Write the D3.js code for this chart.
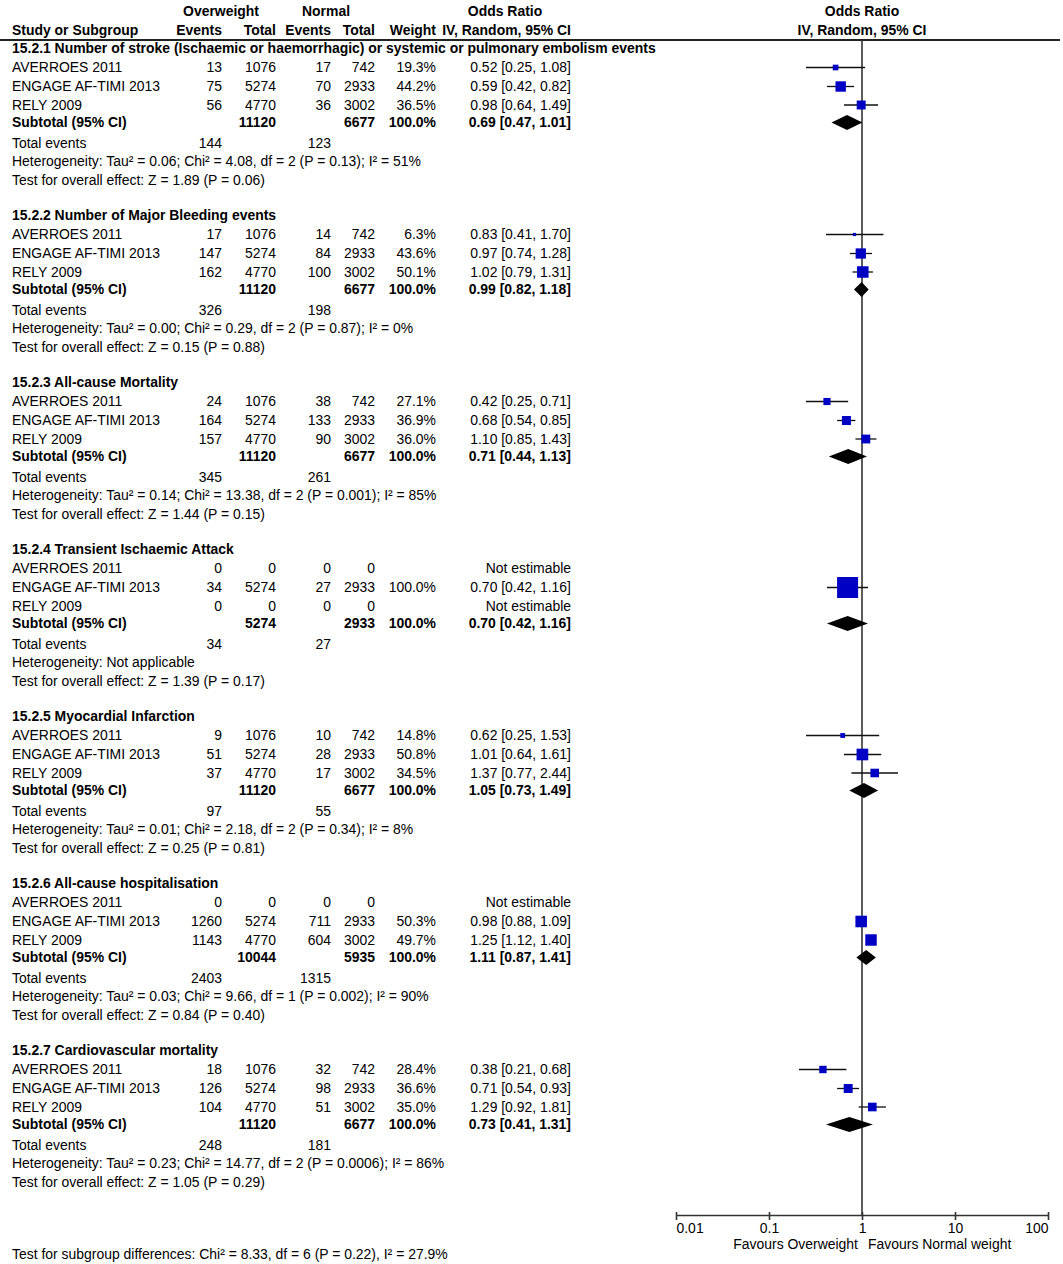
<!DOCTYPE html>
<html>
<head>
<meta charset="utf-8">
<title>Forest plot: Overweight vs Normal</title>
<script src="https://cdn.jsdelivr.net/npm/d3@7"></script>
<style>
	body { margin: 0; background: #fff; }
	svg { display: block; }
	text { font-family: "Liberation Sans", Arial, sans-serif; font-size: 13.95px; fill: #000; }
	.b { font-weight: bold; }
</style>
</head>
<body>
<svg id="chart" width="1063" height="1264"></svg>
<script>
// ---- data ----
const groupTitles = [
	'15.2.1 Number of stroke (Ischaemic or haemorrhagic) or systemic or pulmonary embolism events',
	'15.2.2 Number of Major Bleeding events',
	'15.2.3 All-cause Mortality',
	'15.2.4 Transient Ischaemic Attack',
	'15.2.5 Myocardial Infarction',
	'15.2.6 All-cause hospitalisation',
	'15.2.7 Cardiovascular mortality'
];
const studyNames = ['AVERROES 2011', 'ENGAGE AF-TIMI 2013', 'RELY 2009'];

const owEvents = [[13, 75, 56], [17, 147, 162], [24, 164, 157], [0, 34, 0], [9, 51, 37], [0, 1260, 1143], [18, 126, 104]];
const owTotals = [[1076, 5274, 4770], [1076, 5274, 4770], [1076, 5274, 4770], [0, 5274, 0], [1076, 5274, 4770], [0, 5274, 4770], [1076, 5274, 4770]];
const nwEvents = [[17, 70, 36], [14, 84, 100], [38, 133, 90], [0, 27, 0], [10, 28, 17], [0, 711, 604], [32, 98, 51]];
const nwTotals = [[742, 2933, 3002], [742, 2933, 3002], [742, 2933, 3002], [0, 2933, 0], [742, 2933, 3002], [0, 2933, 3002], [742, 2933, 3002]];
const weights = [[19.3, 44.2, 36.5], [6.3, 43.6, 50.1], [27.1, 36.9, 36.0], [null, 100.0, null], [14.8, 50.8, 34.5], [null, 50.3, 49.7], [28.4, 36.6, 35.0]];
const orEst = [[0.52, 0.59, 0.98], [0.83, 0.97, 1.02], [0.42, 0.68, 1.10], [null, 0.70, null], [0.62, 1.01, 1.37], [null, 0.98, 1.25], [0.38, 0.71, 1.29]];
const orLow = [[0.25, 0.42, 0.64], [0.41, 0.74, 0.79], [0.25, 0.54, 0.85], [null, 0.42, null], [0.25, 0.64, 0.77], [null, 0.88, 1.12], [0.21, 0.54, 0.92]];
const orHigh = [[1.08, 0.82, 1.49], [1.70, 1.28, 1.31], [0.71, 0.85, 1.43], [null, 1.16, null], [1.53, 1.61, 2.44], [null, 1.09, 1.40], [0.68, 0.93, 1.81]];

const subOwTotal = [11120, 11120, 11120, 5274, 11120, 10044, 11120];
const subNwTotal = [6677, 6677, 6677, 2933, 6677, 5935, 6677];
const subOr = [0.69, 0.99, 0.71, 0.70, 1.05, 1.11, 0.73];
const subLow = [0.47, 0.82, 0.44, 0.42, 0.73, 0.87, 0.41];
const subHigh = [1.01, 1.18, 1.13, 1.16, 1.49, 1.41, 1.31];
const totalOwEvents = [144, 326, 345, 34, 97, 2403, 248];
const totalNwEvents = [123, 198, 261, 27, 55, 1315, 181];
const heterogeneity = [
	'Heterogeneity: Tau² = 0.06; Chi² = 4.08, df = 2 (P = 0.13); I² = 51%',
	'Heterogeneity: Tau² = 0.00; Chi² = 0.29, df = 2 (P = 0.87); I² = 0%',
	'Heterogeneity: Tau² = 0.14; Chi² = 13.38, df = 2 (P = 0.001); I² = 85%',
	'Heterogeneity: Not applicable',
	'Heterogeneity: Tau² = 0.01; Chi² = 2.18, df = 2 (P = 0.34); I² = 8%',
	'Heterogeneity: Tau² = 0.03; Chi² = 9.66, df = 1 (P = 0.002); I² = 90%',
	'Heterogeneity: Tau² = 0.23; Chi² = 14.77, df = 2 (P = 0.0006); I² = 86%'
];
const overallEffect = [
	'Test for overall effect: Z = 1.89 (P = 0.06)',
	'Test for overall effect: Z = 0.15 (P = 0.88)',
	'Test for overall effect: Z = 1.44 (P = 0.15)',
	'Test for overall effect: Z = 1.39 (P = 0.17)',
	'Test for overall effect: Z = 0.25 (P = 0.81)',
	'Test for overall effect: Z = 0.84 (P = 0.40)',
	'Test for overall effect: Z = 1.05 (P = 0.29)'
];
const tickValues = [0.01, 0.1, 1, 10, 100];
const tickLabels = ['0.01', '0.1', '1', '10', '100'];
const subgroupTest = 'Test for subgroup differences: Chi² = 8.33, df = 6 (P = 0.22), I² = 27.9%';

// ---- layout ----
const svg = d3.select('#chart');
const col = { name: 12, owEv: 222, owTot: 276, nwEv: 331, nwTot: 375, wt: 436, or: 571 };
const axisY = 1215;
const headerLineY = 40;

const x = d3.scaleLog().domain([0.01, 100]).range([676, 1048]);
const groupY = d3.scaleLinear().domain([0, 7]).range([48, 48 + 167 * 7]);
// offsets within a group: title, 3 studies, subtotal, total events, heterogeneity, overall effect
const rowOff = { title: 0, study: [19.5, 38.5, 57], sub: 74.5, tot: 95, het: 113.5, eff: 132 };
const boxSize = d3.scaleLinear().domain([0, 100]).range([2, 21]);

const f2 = d3.format('.2f');
const f1 = d3.format('.1f');
const orText = (o, l, h) => o == null ? 'Not estimable' : `${f2(o)} [${f2(l)}, ${f2(h)}]`;

function txt(g, xx, yy, s, anchor, bold) {
	return g.append('text')
		.attr('x', xx)
		.attr('y', yy)
		.attr('dy', '0.35em')
		.attr('text-anchor', anchor || 'start')
		.classed('b', !!bold)
		.text(s);
}

// header
const hdr = svg.append('g');
txt(hdr, 221, 11, 'Overweight', 'middle', true);
txt(hdr, 326, 11, 'Normal', 'middle', true);
txt(hdr, 505, 11, 'Odds Ratio', 'middle', true);
txt(hdr, x(1), 11, 'Odds Ratio', 'middle', true);
txt(hdr, col.name, 30, 'Study or Subgroup', 'start', true);
txt(hdr, col.owEv, 30, 'Events', 'end', true);
txt(hdr, col.owTot, 30, 'Total', 'end', true);
txt(hdr, col.nwEv, 30, 'Events', 'end', true);
txt(hdr, col.nwTot, 30, 'Total', 'end', true);
txt(hdr, col.wt, 30, 'Weight', 'end', true);
txt(hdr, col.or, 30, 'IV, Random, 95% CI', 'end', true);
txt(hdr, x(1), 30, 'IV, Random, 95% CI', 'middle', true);

svg.append('line')
	.attr('x1', 0).attr('x2', 1060)
	.attr('y1', headerLineY).attr('y2', headerLineY)
	.attr('stroke', '#222').attr('stroke-width', 2);

// line of no effect
svg.append('line')
	.attr('x1', x(1)).attr('x2', x(1))
	.attr('y1', headerLineY).attr('y2', axisY)
	.attr('stroke', '#333').attr('stroke-width', 1.6);

// groups
groupTitles.forEach((title, gi) => {
	const g = svg.append('g');
	const y0 = groupY(gi);
	txt(g, col.name, y0, title, 'start', true);

	studyNames.forEach((name, si) => {
		const y = y0 + rowOff.study[si];
		txt(g, col.name, y, name);
		txt(g, col.owEv, y, owEvents[gi][si], 'end');
		txt(g, col.owTot, y, owTotals[gi][si], 'end');
		txt(g, col.nwEv, y, nwEvents[gi][si], 'end');
		txt(g, col.nwTot, y, nwTotals[gi][si], 'end');
		if (weights[gi][si] != null) txt(g, col.wt, y, f1(weights[gi][si]) + '%', 'end');
		txt(g, col.or, y, orText(orEst[gi][si], orLow[gi][si], orHigh[gi][si]), 'end');

		if (orEst[gi][si] != null) {
			g.append('line')
				.attr('x1', x(orLow[gi][si])).attr('x2', x(orHigh[gi][si]))
				.attr('y1', y).attr('y2', y)
				.attr('stroke', '#111').attr('stroke-width', 1.3);
			const s = boxSize(weights[gi][si]);
			g.append('rect')
				.attr('x', x(orEst[gi][si]) - s / 2)
				.attr('y', y - s / 2)
				.attr('width', s).attr('height', s)
				.attr('fill', '#0000c4');
		}
	});

	const ys = y0 + rowOff.sub;
	txt(g, col.name, ys, 'Subtotal (95% CI)', 'start', true);
	txt(g, col.owTot, ys, subOwTotal[gi], 'end', true);
	txt(g, col.nwTot, ys, subNwTotal[gi], 'end', true);
	txt(g, col.wt, ys, '100.0%', 'end', true);
	txt(g, col.or, ys, orText(subOr[gi], subLow[gi], subHigh[gi]), 'end', true);

	const dh = 7.5;
	g.append('path')
		.attr('d', `M${x(subLow[gi])},${ys} L${x(subOr[gi])},${ys - dh} L${x(subHigh[gi])},${ys} L${x(subOr[gi])},${ys + dh} Z`)
		.attr('fill', '#000');

	const yt = y0 + rowOff.tot;
	txt(g, col.name, yt, 'Total events');
	txt(g, col.owEv, yt, totalOwEvents[gi], 'end');
	txt(g, col.nwEv, yt, totalNwEvents[gi], 'end');
	txt(g, col.name, y0 + rowOff.het, heterogeneity[gi]);
	txt(g, col.name, y0 + rowOff.eff, overallEffect[gi]);
});

// axis
const axis = d3.axisBottom(x)
	.tickValues(tickValues)
	.tickFormat((d, i) => tickLabels[i])
	.tickSize(5)
	.tickSizeOuter(0);

const ax = svg.append('g')
	.attr('transform', `translate(0,${axisY})`)
	.call(axis);
ax.select('.domain').attr('stroke', '#333').attr('stroke-width', 1.6);
ax.selectAll('.tick line').attr('y1', -3).attr('y2', 5).attr('stroke', '#333').attr('stroke-width', 1.6);
ax.selectAll('.tick text')
	.attr('y', 13)
	.attr('dy', '0.35em')
	.attr('font-family', null)
	.attr('font-size', null)
	.attr('text-anchor', (d, i) => i === 0 ? 'start' : (i === tickValues.length - 1 ? 'end' : 'middle'))
	.attr('fill', '#000');

txt(svg, x(1) - 4, 1244, 'Favours Overweight', 'end');
txt(svg, x(1) + 6, 1244, 'Favours Normal weight', 'start');

txt(svg, col.name, 1254, subgroupTest);
</script>
</body>
</html>
